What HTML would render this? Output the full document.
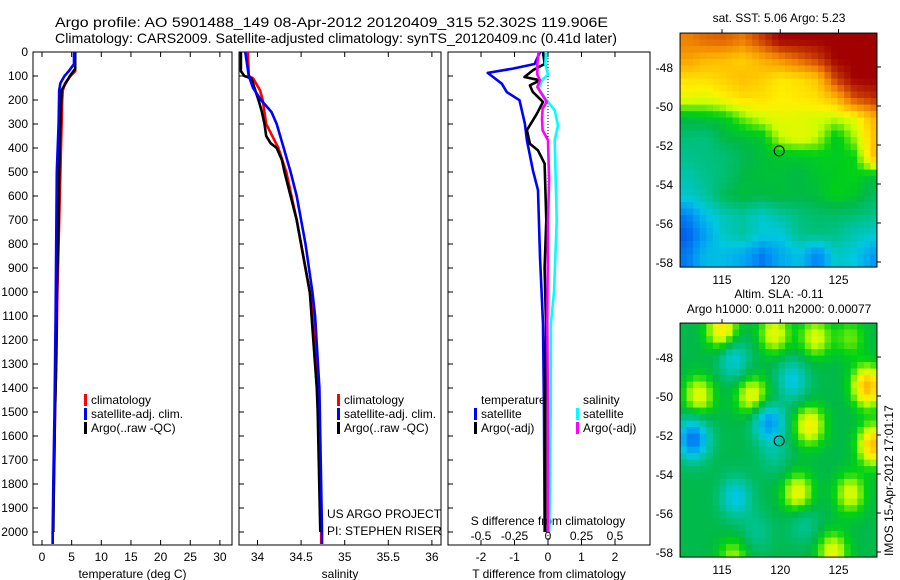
<!DOCTYPE html>
<html><head><meta charset="utf-8"><title>Argo profile</title>
<style>
html,body{margin:0;padding:0;background:#fff;}
svg{display:block;font-family:"Liberation Sans",sans-serif;}
text{fill:#000;}
</style></head>
<body>
<svg id="fig" width="900" height="580" viewBox="0 0 900 580" xmlns="http://www.w3.org/2000/svg">
<text x="55" y="27" font-size="14" textLength="553" lengthAdjust="spacingAndGlyphs">Argo profile: AO 5901488_149 08-Apr-2012 20120409_315 52.302S 119.906E</text>
<text x="55" y="43" font-size="14" textLength="562" lengthAdjust="spacingAndGlyphs">Climatology: CARS2009. Satellite-adjusted climatology: synTS_20120409.nc (0.41d later)</text>
<g id="g1"></g>
<g id="g2"></g>
<g id="g3"></g>
<g id="m1"></g>
<g id="m2"></g>
<text x="0" y="0" font-size="12" transform="translate(893,556) rotate(-90)">IMOS 15-Apr-2012 17:01:17</text>
</svg>
<script>
// ---- profile data (depth in dbar) ----
const tClimDepth = [0,80,100,130,160,200,300,500,700,1000,1300,1500,1800,2000,2050];
const tClim      = [5.6,5.6,4.8,3.9,3.5,3.4,3.3,3.1,2.9,2.6,2.4,2.2,2.0,1.8,1.8];
const tSatDepth  = [0,50,80,100,130,160,300,500,800,1100,1500,1800,2000,2050];
const tSat       = [5.4,5.4,4.5,3.8,3.1,2.9,2.8,2.5,2.4,2.3,2.1,1.9,1.8,1.8];
const tArgoDepth = [0,70,100,130,160,300,500,700,1000,1300,1500,1800,2000];
const tArgo      = [5.6,5.6,4.7,4.0,3.3,3.1,2.9,2.8,2.5,2.4,2.2,2.0,1.9];

const sClimDepth = [0,100,110,160,200,300,400,500,700,1000,1100,1400,2000,2050];
const sClim      = [33.89,33.9,33.95,34.03,34.06,34.1,34.24,34.33,34.45,34.6,34.64,34.7,34.73,34.73];
const sSatDepth  = [0,100,150,200,250,300,400,500,600,800,1000,1100,1400,2000,2050];
const sSat       = [33.86,33.9,33.95,34.04,34.16,34.22,34.3,34.38,34.45,34.55,34.63,34.66,34.71,34.74,34.74];
const sArgoDepth = [0,80,100,110,210,250,300,350,380,400,450,500,700,1000,1400,1500,2000];
const sArgo      = [33.81,33.81,33.85,33.93,34.02,34.05,34.08,34.1,34.15,34.22,34.28,34.31,34.45,34.6,34.68,34.69,34.72];

const dTSatDepth  = [0,50,69,87,104,132,167,201,299,368,493,576,854,1132,1500,2000];
const dTSat       = [-0.24,-0.4,-1.05,-1.8,-1.64,-1.38,-1.23,-0.85,-0.69,-0.63,-0.45,-0.3,-0.24,-0.15,-0.12,-0.1];
const dTArgoDepth = [0,50,76,104,118,139,167,208,257,326,382,410,465,700,900,1132,1500,2000];
const dTArgo      = [-0.15,-0.1,-0.45,-0.7,-0.24,-0.54,-0.45,-0.15,-0.33,-0.63,-0.54,-0.3,-0.1,-0.05,-0.1,-0.06,-0.08,-0.08];
const dSSatDepth  = [0,50,94,118,153,201,243,306,368,700,1000,1132,1500,2000];
const dSSat       = [-0.015,-0.02,0,-0.045,-0.07,-0.01,0.05,0.075,0.05,0.065,0.045,0.022,0.02,0.01];
const dSArgoDepth = [0,50,94,118,146,208,236,278,326,368,534,700,1132,1500,2000];
const dSArgo      = [-0.07,-0.08,-0.08,-0.06,-0.08,-0.01,-0.04,-0.045,-0.04,0,0.008,0,-0.005,0,0];

const depthTicks = [0,100,200,300,400,500,600,700,800,900,1000,1100,1200,1300,1400,1500,1600,1700,1800,1900,2000];
const tTicks = [0,5,10,15,20,25,30];
const sTicks = [34,34.5,35,35.5,36];
const sTickLabels = ['34','34.5','35','35.5','36'];
const dTTicks = [-2,-1,0,1,2];
const dSTicks = [-0.5,-0.25,0,0.25,0.5];
const dSTickLabels = ['-0.5','-0.25','0','0.25','0.5'];

// ---- map data ----
const sstLon = [112,113.6,115.2,116.8,118.4,120,121.6,123.2,124.8,126.4,128];
const sstLat = [-46.6,-47.6,-48.6,-49.6,-50.6,-51.6,-52.6,-53.6,-54.6,-55.6,-56.6,-57.6];
const sstRows = [
 [8.2,8.5,8.6,8.3,9.0,9.8,9.8,9.8,9.8,9.8,9.8],
 [7.8,7.5,7.4,7.2,7.6,8.0,8.5,9.0,9.8,9.8,9.8],
 [7.0,7.0,7.2,7.4,7.2,6.9,7.0,7.3,9.0,9.8,9.8],
 [6.6,6.5,6.8,7.0,7.0,6.8,6.9,7.0,7.5,8.8,9.2],
 [5.3,5.4,5.5,6.0,6.4,6.6,6.5,6.4,6.3,6.6,7.5],
 [4.8,4.7,5.2,5.3,5.4,6.3,6.6,6.3,5.4,6.2,7.3],
 [4.6,4.7,4.8,5.1,5.3,5.4,5.4,5.5,5.5,5.6,7.4],
 [4.3,4.6,4.8,5.2,5.3,5.3,5.2,5.4,5.5,5.6,5.3],
 [4.0,4.4,5.1,5.3,5.2,5.3,5.2,5.3,5.6,5.4,5.0],
 [2.7,3.7,4.2,4.4,4.0,4.4,4.7,4.9,4.9,4.8,4.6],
 [2.2,3.2,4.1,4.4,3.9,3.8,4.6,4.7,4.6,4.2,4.0],
 [2.6,3.6,3.6,3.3,2.6,3.3,3.7,2.7,4.1,3.8,3.1]];
const slaBlobLon = [115,119.5,123,126,113,117.5,127.5,122.5,128,121.5,126,124.5,116,119,112.5,119,116,121,116.2,119.5,122,118];
const slaBlobLat = [-46.6,-46.8,-47,-47,-50,-50,-49.5,-51.5,-52.5,-55,-55,-58,-58.3,-50.5,-52.2,-51.2,-48.1,-49.2,-55.2,-53,-56.5,-57];
const slaBlobAmp = [1.8,1.4,1.3,0.8,1.4,1.4,2.3,1.6,2.2,1.5,1.3,1.4,1.0,0.8,-2.6,-2.6,-1.3,-1.4,-1.4,-0.6,-0.7,-0.6];
const argoLon = 119.906, argoLat = -52.302;

const NS='http://www.w3.org/2000/svg';
function mk(parent,tag,attrs){const e=document.createElementNS(NS,tag);for(const k in attrs)e.setAttribute(k,attrs[k]);parent.appendChild(e);return e;}
const pTop=52, pBot=545;
const yD = d => pTop + d*0.24;

function panel(g,x0,x1,xs,ticks,labels,xlabel,name){
  const r=mk(g,'rect',{x:x0,y:pTop,width:x1-x0,height:pBot-pTop,fill:'none',stroke:'#000','stroke-width':1});
  
  
  ticks.forEach((t,i)=>{
    const x=xs(t);
    mk(g,'line',{x1:x,x2:x,y1:pTop,y2:pTop+5,stroke:'#000'});
    mk(g,'line',{x1:x,x2:x,y1:pBot,y2:pBot-5,stroke:'#000'});
    if(labels){const tx=mk(g,'text',{x:x,y:561,'font-size':12,'text-anchor':'middle'});tx.textContent=labels[i];
      
      }
  });
  depthTicks.forEach(d=>{mk(g,'line',{x1:x0,x2:x0+5,y1:yD(d),y2:yD(d),stroke:'#000'});});
  if(xlabel){const tx=mk(g,'text',{x:(x0+x1)/2,y:578,'font-size':12,'text-anchor':'middle'});tx.textContent=xlabel;
    
    }
}
function line(g,xs,vals,depths,color,name){
  const pts=vals.map((v,i)=>xs(v).toFixed(1)+','+yD(depths[i]).toFixed(1));
  const p=mk(g,'polyline',{points:pts.join(' '),fill:'none',stroke:color,'stroke-width':2.6,'stroke-linejoin':'round'});
  
  
}
function txt(g,x,y,s,name,anchor){const t=mk(g,'text',{x:x,y:y,'font-size':12,'text-anchor':anchor||'start'});t.textContent=s;
  
  return t;}
function legendEntry(g,x,y,color,label,name){
  mk(g,'rect',{x:x,y:y-10,width:3,height:12,fill:color});
  txt(g,x+7,y,label,name);
}

// Panel 1: temperature
const g1=document.getElementById('g1');
const xT = t => 42 + t*5.93;
panel(g1,33,232,xT,tTicks,tTicks.map(String),'temperature (deg C)','temperature');
depthTicks.forEach(d=>{txt(g1,28,yD(d)+4,String(d),'depth-tick-label','end');});
line(g1,xT,tClim,tClimDepth,'#f00','temperature-climatology-line');
line(g1,xT,tArgo,tArgoDepth,'#000','temperature-argo-line');
line(g1,xT,tSat,tSatDepth,'#00f','temperature-satellite-line');
legendEntry(g1,84,404,'#f00','climatology','legend-entry-climatology');
legendEntry(g1,84,418,'#00f','satellite-adj. clim.','legend-entry-satellite');
legendEntry(g1,84,432,'#000','Argo(..raw -QC)','legend-entry-argo');

// Panel 2: salinity
const g2=document.getElementById('g2');
const xS = s => 257.5 + (s-34)*87.2;
panel(g2,239,441,xS,sTicks,sTickLabels,'salinity','salinity');
line(g2,xS,sClim,sClimDepth,'#f00','salinity-climatology-line');
line(g2,xS,sArgo,sArgoDepth,'#000','salinity-argo-line');
line(g2,xS,sSat,sSatDepth,'#00f','salinity-satellite-line');
legendEntry(g2,337,404,'#f00','climatology','legend-entry-climatology');
legendEntry(g2,337,418,'#00f','satellite-adj. clim.','legend-entry-satellite');
legendEntry(g2,337,432,'#000','Argo(..raw -QC)','legend-entry-argo');
txt(g2,327,518,'US ARGO PROJECT','project-credit');
txt(g2,327,535,'PI: STEPHEN RISER','pi-credit');

// Panel 3: differences
const g3=document.getElementById('g3');
const xDT = v => 548 + v*33.5;
const xDS = v => 548 + v*134;
panel(g3,448,650,xDT,dTTicks,dTTicks.map(String),'T difference from climatology','difference');
mk(g3,'line',{x1:xDT(0),x2:xDT(0),y1:pTop,y2:pBot,stroke:'#000','stroke-width':1,'stroke-dasharray':'1,2'});
dSTicks.forEach((v,i)=>{txt(g3,xDS(v),540,dSTickLabels[i],'s-difference-tick-label','middle');});
txt(g3,548,525,'S difference from climatology','s-difference-axis-title','middle');
line(g3,xDT,dTSat,dTSatDepth,'#00f','t-diff-satellite-line');
line(g3,xDT,dTArgo,dTArgoDepth,'#000','t-diff-argo-line');
line(g3,xDS,dSSat,dSSatDepth,'#0ff','s-diff-satellite-line');
line(g3,xDS,dSArgo,dSArgoDepth,'#f0f','s-diff-argo-line');
txt(g3,481,404,'temperature','legend-title-temperature');
txt(g3,583,404,'salinity','legend-title-salinity');
legendEntry(g3,474,418,'#00f','satellite','legend-entry-t-satellite');
legendEntry(g3,474,432,'#000','Argo(-adj)','legend-entry-t-argo');
legendEntry(g3,576,418,'#0ff','satellite','legend-entry-s-satellite');
legendEntry(g3,576,432,'#f0f','Argo(-adj)','legend-entry-s-argo');

// ---- maps ----
const palV=[2,3,3.8,4.5,5.2,5.6,6.3,6.8,7.4,8.2,9,9.8];
const palC=[[0,80,230],[0,150,245],[0,200,225],[0,195,150],[0,185,70],[0,210,20],[200,255,0],[255,240,0],[255,190,0],[240,130,0],[200,60,0],[160,0,0]];
function pal(v){
  if(v<=palV[0])return palC[0];if(v>=palV[palV.length-1])return palC[palC.length-1];
  for(let i=0;i<palV.length-1;i++){if(v<=palV[i+1]){const f=(v-palV[i])/(palV[i+1]-palV[i]);
    return palC[i].map((c,k)=>Math.round(c+(palC[i+1][k]-c)*f));}}
}
const mx = lon => 722 + (lon-115)*11.65;
const my = (lat,off) => off + 67 + (-48-lat)*19.5;
const lonMin=111.4, lonMax=128.3, latTop=-46.26, latBot=-58.26;
function sstAt(lon,lat){
  let fx=(lon-sstLon[0])/(sstLon[1]-sstLon[0]); let fy=(sstLat[0]-lat)/1.0;
  fx=Math.max(0,Math.min(sstLon.length-1.001,fx)); fy=Math.max(0,Math.min(sstLat.length-1.001,fy));
  const i=Math.floor(fx),j=Math.floor(fy),a=fx-i,b=fy-j;
  return sstRows[j][i]*(1-a)*(1-b)+sstRows[j][i+1]*a*(1-b)+sstRows[j+1][i]*(1-a)*b+sstRows[j+1][i+1]*a*b;
}
function slaAt(lon,lat){
  let v=5.15;
  for(let k=0;k<slaBlobLon.length;k++){const dx=(lon-slaBlobLon[k])/1.35,dy=(lat-slaBlobLat[k])/1.05;v+=slaBlobAmp[k]*Math.exp(-(dx*dx+dy*dy));}
  return v;
}
function drawMap(g,off,field,title1,title2,fillMarker){
  const nx=30,ny=36,dl=(lonMax-lonMin)/nx,db=(latTop-latBot)/ny;
  for(let j=0;j<ny;j++)for(let i=0;i<nx;i++){
    const lon=lonMin+(i+0.5)*dl, lat=latTop-(j+0.5)*db;
    const c=pal(field(lon,lat));
    const x=mx(lonMin+i*dl), y=my(latTop-j*db,off);
    mk(g,'rect',{x:x.toFixed(2),y:y.toFixed(2),width:(dl*11.65+0.4).toFixed(2),height:(db*19.5+0.4).toFixed(2),fill:'rgb('+c.join(',')+')'});
  }
  const x0=mx(lonMin),x1=mx(lonMax),y0=my(latTop,off),y1=my(latBot,off);
  mk(g,'rect',{x:x0,y:y0,width:x1-x0,height:y1-y0,fill:'none',stroke:'#000'});
  [115,120,125].forEach(l=>{const x=mx(l);mk(g,'line',{x1:x,x2:x,y1:y0,y2:y0-4,stroke:'#000'});
    txt(g,x,y1+17,String(l),'map-lon-tick-label','middle');});
  [-48,-50,-52,-54,-56,-58].forEach(l=>{const y=my(l,off);mk(g,'line',{x1:x1,x2:x1+4,y1:y,y2:y,stroke:'#000'});
    txt(g,673,y+5,String(l),'map-lat-tick-label','end');});
  const c=mk(g,'circle',{cx:mx(argoLon),cy:my(argoLat,off),r:5,fill:fillMarker,stroke:'#000','stroke-width':1});
  
  
  if(title2){txt(g,779,y0-25,title1,'map-title','middle');txt(g,779,y0-10,title2,'map-subtitle','middle');}
  else txt(g,779,y0-11,title1,'map-title','middle');
}
drawMap(document.getElementById('m1'),0,sstAt,'sat. SST: 5.06 Argo: 5.23',null,'none');
drawMap(document.getElementById('m2'),290,slaAt,'Altim. SLA: -0.11','Argo h1000: 0.011 h2000: 0.00077','none');
</script>
</body></html>
